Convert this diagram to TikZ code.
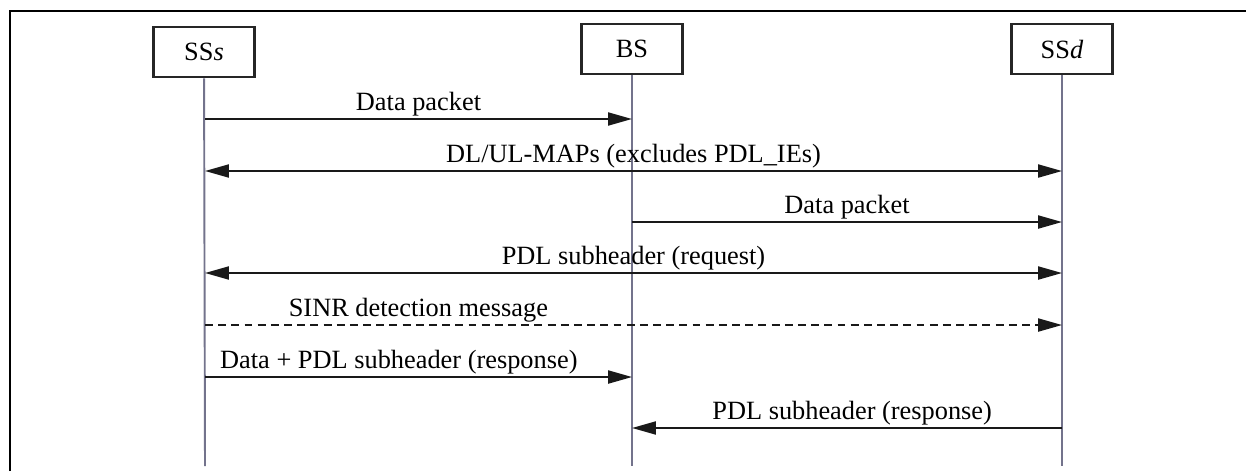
\documentclass[tikz,border=0pt]{standalone}
\usepackage{fontspec}
\setmainfont{Liberation Serif}
\usetikzlibrary{arrows.meta}

\begin{document}
\begin{tikzpicture}[x=0.02cm,y=-0.02cm,font=\fontsize{15}{18}\selectfont,
	>={Triangle[length=13.6pt,width=7.4pt]},
	box/.style={draw=black!85,line width=1.6pt,minimum width=2.02cm,minimum height=1cm,inner sep=0pt},
	life/.style={draw=gray!90!blue,line width=1.1pt},
	msg/.style={draw=black!90,line width=1.1pt,->},
	lbl/.style={anchor=base,yshift=0.18cm}]
			\useasboundingbox (0,0) rectangle (1246,471);
			\draw[line width=0.85pt] (10,471) -- (10,11) -- (1246,11);
			
			\node[box] (ss) at (204,52) {SS\textit{s}};
			\node[box] (bs) at (632,49) {BS};
			\node[box] (sd) at (1062,49) {SS\textit{d}};
			
			\foreach \n/\x in {ss/205,bs/632,sd/1062}
			{\coordinate (\n end) at (\x,466);
			\draw[life] (\n) -- (\n end);}
			
			\foreach \i/\y in {1/119,2/171,3/222,4/273,5/325,6/377,7/428}
			\foreach \n/\x in {ss/205,bs/632,sd/1062}
			\coordinate (\n\i) at (\x,\y);
			
			\draw[msg] (ss1) -- node[midway,lbl] {Data packet} (bs1);
			\draw[msg,<->] (ss2) -- node[midway,lbl] {DL/UL-MAPs (excludes PDL\_IEs)} (sd2);
			\draw[msg] (bs3) -- node[midway,lbl] {Data packet} (sd3);
			\draw[msg,<->] (ss4) -- node[midway,lbl] {PDL subheader (request)} (sd4);
			\draw[msg,dash pattern=on 4.5pt off 3pt] (ss5) -- node[pos=0.249,lbl] {SINR detection message} (sd5);
			\draw[msg] (ss6) -- node[pos=0.454,lbl] {Data + PDL subheader (response)} (bs6);
			\draw[msg] (sd7) -- node[pos=0.488,lbl] {PDL subheader (response)} (bs7);
			\end{tikzpicture}
\end{document}
